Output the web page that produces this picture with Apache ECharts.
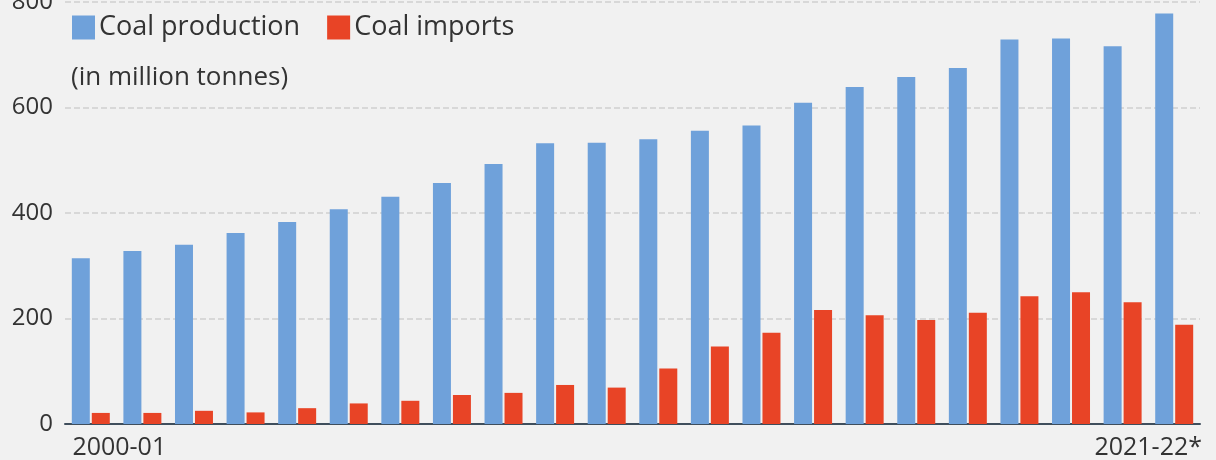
<!DOCTYPE html>
<html>
<head>
<meta charset="utf-8">
<script src="https://cdn.jsdelivr.net/npm/echarts@6/dist/echarts.min.js"></script>
<style>
html,body{margin:0;padding:0;background:#f1f1f1;}
#chart{width:1216px;height:460px;}
</style>
</head>
<body>
<div id="chart"></div>
<script>
const categories = ['2000-01','2001-02','2002-03','2003-04','2004-05','2005-06','2006-07','2007-08','2008-09','2009-10','2010-11','2011-12','2012-13','2013-14','2014-15','2015-16','2016-17','2017-18','2018-19','2019-20','2020-21','2021-22*'];
const production = [314, 328, 340, 362, 383, 407, 431, 457, 493, 532, 533, 540, 556, 566, 609, 639, 658, 675, 729, 731, 716, 778];
const imports = [21, 21, 25, 22, 30, 39, 44, 55, 59, 74, 69, 105, 147, 173, 216, 206, 197, 211, 242, 250, 231, 188];
const yTicks = [0, 200, 400, 600, 800];
const seriesNames = ['Coal production', 'Coal imports'];
const unitNote = '(in million tonnes)';

const FONT = '"Open Sans", "Noto Sans", sans-serif';
const TXT = '#333333';
const chart = echarts.init(document.getElementById('chart'));
chart.setOption({
  backgroundColor: '#f1f1f1',
  animation: false,
  title: {
    text: unitNote,
    left: 66, top: 60,
    textStyle: {fontFamily: FONT, fontSize: 26, fontWeight: 'normal', color: TXT}
  },
  legend: {
    left: 67, top: 9,
    icon: 'rect',
    itemWidth: 23, itemHeight: 24, itemGap: 27,
    textStyle: {fontFamily: FONT, fontSize: 27, color: TXT, padding: [0,0,0,-1]},
    data: seriesNames
  },
  grid: {left: 65, right: 16, top: 2, bottom: 36, containLabel: false, outerBoundsMode: 'none'},
  xAxis: {
    type: 'category',
    data: categories,
    axisLine: {lineStyle: {color: '#3f4e5c', width: 2}},
    axisTick: {show: false},
    axisLabel: {
      interval: function (i) { return i === 0 || i === categories.length - 1; },
      margin: 11,
      formatter: function (v, i) { return i === 0 ? '{l|' + v + '}' : '{r|' + v + '}'; },
      rich: {
        l: {fontFamily: FONT, fontSize: 25, color: TXT, padding: [0,0,0,57]},
        r: {fontFamily: FONT, fontSize: 25, color: TXT, padding: [0,52,0,0]}
      }
    }
  },
  yAxis: {
    type: 'value',
    min: yTicks[0], max: yTicks[yTicks.length - 1], interval: 200,
    axisLine: {show: false},
    axisTick: {show: false},
    axisLabel: {fontFamily: FONT, fontSize: 24, color: TXT, margin: 12},
    splitLine: {lineStyle: {color: '#cfcfcf', type: 'dashed', width: 1.5}}
  },
  series: [
    {name: seriesNames[0], type: 'bar', data: production, barWidth: 18, barGap: '11%', itemStyle: {color: '#6fa1da'}},
    {name: seriesNames[1], type: 'bar', data: imports, barWidth: 18, itemStyle: {color: '#e84426'}}
  ]
});
</script>
</body>
</html>
